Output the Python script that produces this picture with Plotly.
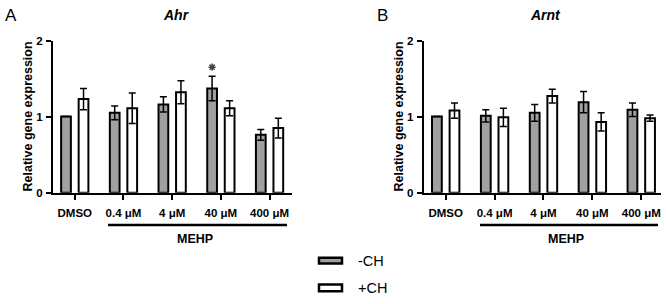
import plotly.graph_objects as go

categories = ["DMSO", "0.4 μM", "4 μM", "40 μM", "400 μM"]
y_ticks = [0, 1, 2]

ahr_minus = [1.00, 1.05, 1.16, 1.37, 0.76]
ahr_minus_err = [0.0, 0.09, 0.10, 0.16, 0.07]
ahr_plus = [1.23, 1.11, 1.32, 1.11, 0.85]
ahr_plus_err = [0.14, 0.20, 0.15, 0.10, 0.13]

arnt_minus = [1.00, 1.01, 1.05, 1.19, 1.09]
arnt_minus_err = [0.0, 0.08, 0.11, 0.14, 0.09]
arnt_plus = [1.08, 0.99, 1.27, 0.93, 0.98]
arnt_plus_err = [0.10, 0.12, 0.09, 0.12, 0.04]

sig_index = 3  # Ahr, 40 µM, -CH

W, H = 666, 304
FONT = "Liberation Sans, Arial, sans-serif"
GRAY = "#a0a0a0"

def px(x):
    return x / W

def py(y):
    return (H - y) / H

xs = list(range(len(categories)))
fig = go.Figure()

def add_panel(xa, ya, minus, minus_err, plus, plus_err):
    fig.add_trace(go.Bar(
        x=xs, y=minus, width=0.2, offset=-0.28, xaxis=xa, yaxis=ya,
        marker=dict(color=GRAY, line=dict(color="black", width=2)),
        error_y=dict(type="data", array=minus_err, color="black", thickness=1.5, width=3.5),
        showlegend=False))
    fig.add_trace(go.Bar(
        x=xs, y=plus, width=0.2, offset=0.08, xaxis=xa, yaxis=ya,
        marker=dict(color="white", line=dict(color="black", width=2)),
        error_y=dict(type="data", array=plus_err, color="black", thickness=1.5, width=3.5),
        showlegend=False))

add_panel("x", "y", ahr_minus, ahr_minus_err, ahr_plus, ahr_plus_err)
add_panel("x2", "y2", arnt_minus, arnt_minus_err, arnt_plus, arnt_plus_err)

# significance marker
fig.add_trace(go.Scatter(
    x=[xs[sig_index] - 0.18], y=[ahr_minus[sig_index] + ahr_minus_err[sig_index] + 0.12],
    xaxis="x", yaxis="y", mode="markers",
    marker=dict(symbol="asterisk-open", size=6, color="#444", line=dict(color="#444", width=1.5)),
    showlegend=False, cliponaxis=False))

ydom = [py(194.3), py(36)]
xaxis_common = dict(
    tickmode="array", tickvals=xs, ticktext=categories,
    showline=True, linecolor="black", linewidth=2,
    ticks="outside", ticklen=5, tickwidth=2, tickcolor="black",
    tickfont=dict(family=FONT, size=11.5, color="black", weight="bold"),
    showgrid=False, zeroline=False, fixedrange=True, ticklabelstandoff=4)
yaxis_common = dict(
    range=[0, 2], tickmode="array", tickvals=y_ticks,
    showline=True, linecolor="black", linewidth=2,
    ticks="outside", ticklen=5, tickwidth=2, tickcolor="black",
    tickfont=dict(family=FONT, size=11.5, color="black", weight="bold"),
    showgrid=False, zeroline=False, domain=ydom, ticklabelstandoff=1)

fig.update_layout(
    width=W, height=H, margin=dict(l=0, r=0, t=0, b=0),
    paper_bgcolor="white", plot_bgcolor="white",
    barmode="overlay",
    xaxis=dict(xaxis_common, domain=[px(53), px(292.3)], range=[-0.447, 4.467], anchor="y"),
    yaxis=dict(yaxis_common, anchor="x"),
    xaxis2=dict(xaxis_common, domain=[px(423.7), px(661.3)], range=[-0.45, 4.41], anchor="y2"),
    yaxis2=dict(yaxis_common, anchor="x2"),
    font=dict(family=FONT, color="black"),
)

shapes = []
annotations = []

for (xl, xr, ycen_title, title, letter, lx, ytitle_x) in [
    (108, 287, 176, "Ahr", "A", 3, 28),
    (480, 658, 545, "Arnt", "B", 375, 399),
]:
    shapes.append(dict(type="line", xref="paper", yref="paper",
                       x0=px(xl), x1=px(xr), y0=py(228), y1=py(228),
                       line=dict(color="black", width=2.5)))
    annotations.append(dict(xref="paper", yref="paper", x=px((xl + xr) / 2 - 3), y=py(243),
                            text="<b>MEHP</b>", showarrow=False,
                            font=dict(family=FONT, size=12.5, color="black"),
                            xanchor="center", yanchor="middle"))
    annotations.append(dict(xref="paper", yref="paper", x=px(ycen_title), y=py(9),
                            text="<b><i>%s</i></b>" % title, showarrow=False,
                            font=dict(family=FONT, size=14, color="black"),
                            xanchor="center", yanchor="middle"))
    annotations.append(dict(xref="paper", yref="paper", x=px(lx), y=py(9.5),
                            text=letter, showarrow=False,
                            font=dict(family=FONT, size=17, color="black"),
                            xanchor="left", yanchor="middle"))
    annotations.append(dict(xref="paper", yref="paper", x=px(ytitle_x), y=py(115),
                            text="<b>Relative gene expression</b>", showarrow=False,
                            textangle=-90,
                            font=dict(family=FONT, size=12.5, color="black"),
                            xanchor="center", yanchor="middle"))

# legend
for (ytop, ybot, fill, label) in [(262, 268, GRAY, "-CH"), (290, 297, "white", "+CH")]:
    shapes.append(dict(type="rect", xref="paper", yref="paper",
                       x0=px(319), x1=px(342), y0=py(ybot), y1=py(ytop),
                       fillcolor=fill, line=dict(color="black", width=2.5)))
    annotations.append(dict(xref="paper", yref="paper", x=px(356), y=py((ytop + ybot) / 2),
                            text=label, showarrow=False,
                            font=dict(family=FONT, size=14.5, color="black"),
                            xanchor="left", yanchor="middle"))

fig.update_layout(shapes=shapes, annotations=annotations)
fig.write_html("out.html", config={"displayModeBar": False},
               post_script="document.body.style.margin='0px';document.body.style.overflow='hidden';")
